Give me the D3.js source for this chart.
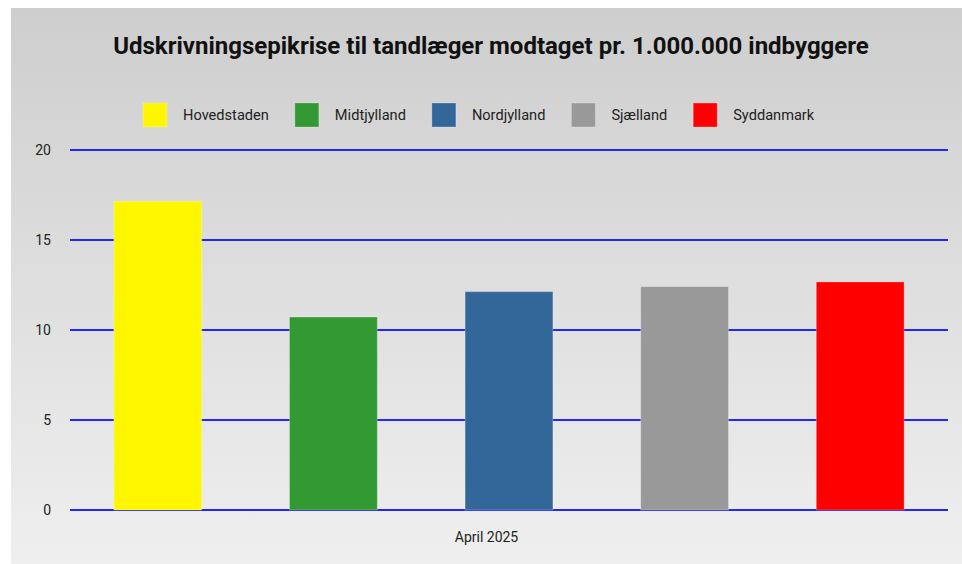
<!DOCTYPE html>
<html>
<head>
<meta charset="utf-8">
<script src="https://cdn.jsdelivr.net/npm/d3@7"></script>
<style>
  body { margin: 0; background: #fff; }
  svg { display: block; font-family: Roboto, "Noto Sans", sans-serif; }
</style>
</head>
<body>
<div id="chart"></div>
<script>
// chart data
const periods = ["April 2025"];
const regions = ["Hovedstaden", "Midtjylland", "Nordjylland", "Sjælland", "Syddanmark"];
const values = [17.15, 10.72, 12.13, 12.41, 12.67];
const regionColors = ["#fff700", "#339933", "#336699", "#999999", "#ff0000"];
const yTicks = [0, 5, 10, 15, 20];
const titleText = "Udskrivningsepikrise til tandlæger modtaget pr. 1.000.000 indbyggere";

const width = 962, height = 564;
const margin = { top: 150, right: 14, bottom: 54, left: 70 };
const panel = { x: 11, y: 8 };

const svg = d3.select("#chart")
  .append("svg")
  .attr("width", width)
  .attr("height", height);

// background gradient
const grad = svg.append("defs").append("linearGradient")
  .attr("id", "bg")
  .attr("x1", 0).attr("y1", 0).attr("x2", 0).attr("y2", 1);
grad.append("stop").attr("offset", "0%").attr("stop-color", "#cecece");
grad.append("stop").attr("offset", "100%").attr("stop-color", "#efefef");

svg.append("rect")
  .attr("x", panel.x)
  .attr("y", panel.y)
  .attr("width", width - panel.x)
  .attr("height", height - panel.y)
  .attr("fill", "url(#bg)");

// title
svg.append("text")
  .attr("x", 491)
  .attr("y", 54)
  .attr("text-anchor", "middle")
  .attr("font-size", 24)
  .attr("font-weight", "bold")
  .attr("fill", "#111")
  .text(titleText);

// legend
const legend = svg.append("g").attr("transform", "translate(143,103)");
let lx = 0;
regions.forEach((r, i) => {
  const item = legend.append("g").attr("transform", `translate(${lx},0)`);
  item.append("rect")
    .attr("width", 24)
    .attr("height", 24)
    .attr("fill", regionColors[i])
    .attr("stroke", "#fff")
    .attr("stroke-opacity", 0.25);
  const t = item.append("text")
    .attr("x", 40)
    .attr("y", 12)
    .attr("dy", "0.35em")
    .attr("font-size", 14.6)
    .attr("fill", "#222")
    .text(r);
  lx += 40 + t.node().getComputedTextLength() + 26;
});

// scales
const x0 = d3.scaleBand()
  .domain(periods)
  .range([margin.left, width - margin.right]);

const x1 = d3.scaleBand()
  .domain(regions)
  .range([0, x0.bandwidth()])
  .paddingInner(0.5)
  .paddingOuter(0.25);

const y = d3.scaleLinear()
  .domain([0, 20])
  .range([height - margin.bottom, margin.top]);

// grid + y labels
const yAxis = d3.axisLeft(y)
  .tickValues(yTicks)
  .tickSize(0)
  .tickPadding(19);

const yG = svg.append("g")
  .attr("transform", `translate(${margin.left},0)`)
  .call(yAxis);
yG.select(".domain").remove();
yG.selectAll("text")
  .attr("font-size", 14)
  .attr("font-family", "Roboto, sans-serif")
  .attr("fill", "#222");

svg.append("g")
  .selectAll("line")
  .data(yTicks)
  .join("line")
  .attr("x1", margin.left)
  .attr("x2", width - margin.right)
  .attr("y1", d => y(d))
  .attr("y2", d => y(d))
  .attr("stroke", "#2525ff")
  .attr("stroke-width", 2);

// bars
const groups = svg.append("g")
  .selectAll("g")
  .data(periods)
  .join("g")
  .attr("transform", d => `translate(${x0(d)},0)`);

groups.selectAll("rect")
  .data(() => regions.map((r, i) => ({ region: r, value: values[i], color: regionColors[i] })))
  .join("rect")
  .attr("x", d => x1(d.region))
  .attr("y", d => y(d.value))
  .attr("width", x1.bandwidth())
  .attr("height", d => y(0) - y(d.value))
  .attr("fill", d => d.color)
  .attr("stroke", "#fff")
  .attr("stroke-opacity", 0.25)
  .attr("stroke-width", 1);

// x label (centred in the panel)
svg.selectAll(".xlabel")
  .data(periods)
  .join("text")
  .attr("class", "xlabel")
  .attr("x", (panel.x + width) / 2)
  .attr("y", 542)
  .attr("text-anchor", "middle")
  .attr("font-size", 14)
  .attr("fill", "#222")
  .text(d => d);
</script>
</body>
</html>
